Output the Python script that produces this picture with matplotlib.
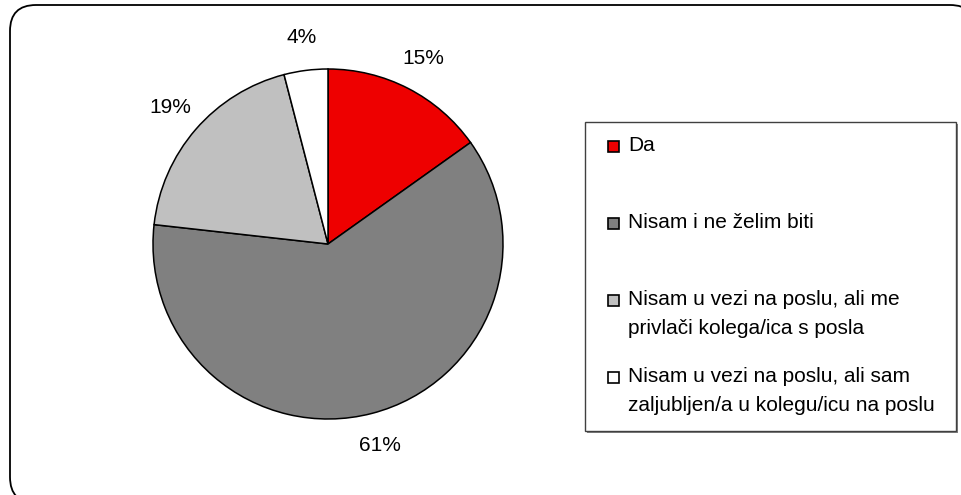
import matplotlib
matplotlib.use('Agg')
import matplotlib.pyplot as plt
from matplotlib.patches import Rectangle, FancyBboxPatch

categories = ["Da",
              "Nisam i ne želim biti",
              "Nisam u vezi na poslu, ali me\nprivlači kolega/ica s posla",
              "Nisam u vezi na poslu, ali sam\nzaljubljen/a u kolegu/icu na poslu"]
values = [15, 61, 19, 4]
pct_labels = ["15%", "61%", "19%", "4%"]
colors = ["#EE0000", "#808080", "#C0C0C0", "#FFFFFF"]

W, H = 961, 495
plt.rcParams['font.family'] = ['Liberation Sans', 'DejaVu Sans']
FS = 15

fig = plt.figure(figsize=(W / 100, H / 100), dpi=100)
fig.patch.set_facecolor('white')

# background axes in pixel coordinates
bg = fig.add_axes([0, 0, 1, 1])
bg.set_xlim(0, W)
bg.set_ylim(H, 0)
bg.axis('off')

frame = FancyBboxPatch((10, 5), 966, 498,
                       boxstyle="round,pad=0,rounding_size=26",
                       facecolor='white', edgecolor='black', linewidth=1.3)
bg.add_patch(frame)

# legend box (with slight shadow)
lx0, ly0, lx1, ly1 = 585, 122, 956, 431
bg.add_patch(Rectangle((lx0 + 2, ly0 + 2), lx1 - lx0, ly1 - ly0,
                       facecolor='#808080', edgecolor='none'))
bg.add_patch(Rectangle((lx0, ly0), lx1 - lx0, ly1 - ly0,
                       facecolor='white', edgecolor='#404040', linewidth=1.0))

first_baseline = 151
step = 77
line_gap = 29
for i, (lab, col) in enumerate(zip(categories, colors)):
    by = first_baseline + i * step
    bg.add_patch(Rectangle((607.5, by - 10.5), 11, 11, facecolor=col,
                           edgecolor='black', linewidth=1.2))
    for k, line in enumerate(lab.split('\n')):
        bg.text(628, by + k * line_gap, line, fontsize=FS, ha='left',
                va='baseline', color='black')

# pie
cx, cy, r = 328, 244, 175
ax = fig.add_axes([(cx - r) / W, (H - (cy + r)) / H, 2 * r / W, 2 * r / H])
wedges, texts = ax.pie(values, colors=colors, labels=pct_labels, startangle=90,
                       counterclock=False, labeldistance=1.19,
                       wedgeprops=dict(edgecolor='black', linewidth=1.1),
                       textprops=dict(fontsize=FS, color='black'))
for t in texts:
    t.set_ha('center')
    t.set_va('center')
ax.set_xlim(-1, 1)
ax.set_ylim(-1, 1)
ax.set_aspect('equal')
ax.axis('off')

fig.savefig('out.png', dpi=100)
